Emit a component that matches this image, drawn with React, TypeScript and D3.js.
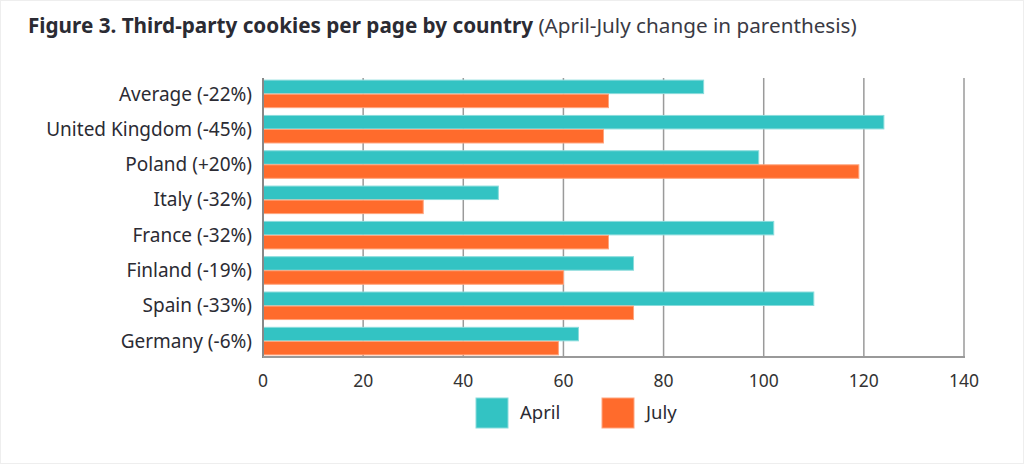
import * as d3 from "d3";

const categories = [
  "Average (-22%)",
  "United Kingdom (-45%)",
  "Poland (+20%)",
  "Italy (-32%)",
  "France (-32%)",
  "Finland (-19%)",
  "Spain (-33%)",
  "Germany (-6%)",
];
const series = ["April", "July"];
const april = [88, 124, 99, 47, 102, 74, 110, 63];
const july = [69, 68, 119, 32, 69, 60, 74, 59];
const xTicks = [0, 20, 40, 60, 80, 100, 120, 140];

const colors: Record<string, string> = { April: "#33c3c3", July: "#ff6b2c" };
const edges: Record<string, string> = { April: "#8adcdc", July: "#ffa57e" };

const font = "'Noto Sans', 'Open Sans', sans-serif";

export default function App() {
  const width = 1024;
  const height = 464;
  const left = 263;
  const right = 964;
  const top = 78;
  const bottom = 357;

  const x = d3.scaleLinear().domain([0, 140]).range([left, right]);
  const y = d3
    .scaleBand()
    .domain(categories)
    .range([top, bottom])
    .paddingInner(0.22)
    .paddingOuter(0.06);
  const ySub = d3
    .scaleBand()
    .domain(series)
    .range([0, y.bandwidth()])
    .paddingInner(0.04);

  const values: Record<string, number[]> = { April: april, July: july };

  return (
    <svg
      width={width}
      height={height}
      style={{ position: "absolute", left: 0, top: 0, background: "#fff" }}
      fontFamily={font}
    >
      <rect x={0.5} y={0.5} width={width - 1} height={height - 1} fill="none" stroke="#eee" />
      <text x={28} y={33} fontSize={20.7} fill="#2b2b33">
        <tspan fontWeight="bold">Figure 3. Third-party cookies per page by country</tspan>
        <tspan fill="#3a3a44"> (April-July change in parenthesis)</tspan>
      </text>

      {xTicks.slice(1).map((t) => (
        <line key={t} x1={x(t)} x2={x(t)} y1={top} y2={bottom} stroke="#9a9a9a" strokeWidth={1.5} />
      ))}

      {categories.map((c, i) => (
        <g key={c} transform={`translate(0, ${y(c)})`}>
          {series.map((s) => (
            <rect
              key={s}
              x={x(0)}
              y={ySub(s)}
              width={x(values[s][i]) - x(0)}
              height={ySub.bandwidth()}
              fill={colors[s]}
              stroke={edges[s]}
              strokeWidth={1}
            />
          ))}
          <text
            x={252}
            y={y.bandwidth() / 2}
            dy="0.35em"
            textAnchor="end"
            fontSize={19}
            fill="#2b2b33"
          >
            {c}
          </text>
        </g>
      ))}

      <line x1={left} x2={left} y1={top} y2={bottom + 1} stroke="#888" strokeWidth={2} />
      <line x1={left} x2={right + 1} y1={bottom} y2={bottom} stroke="#999" strokeWidth={2} />

      {xTicks.map((t) => (
        <text key={t} x={x(t)} y={387} textAnchor="middle" fontSize={17.5} fill="#333">
          {t}
        </text>
      ))}

      {series.map((s, i) => (
        <g key={s} transform={`translate(${476 + i * 126}, 398)`}>
          <rect width={32} height={30} fill={colors[s]} stroke={edges[s]} />
          <text x={44} y={15} dy="0.35em" fontSize={18.5} fill="#2b2b33">
            {s}
          </text>
        </g>
      ))}
    </svg>
  );
}
